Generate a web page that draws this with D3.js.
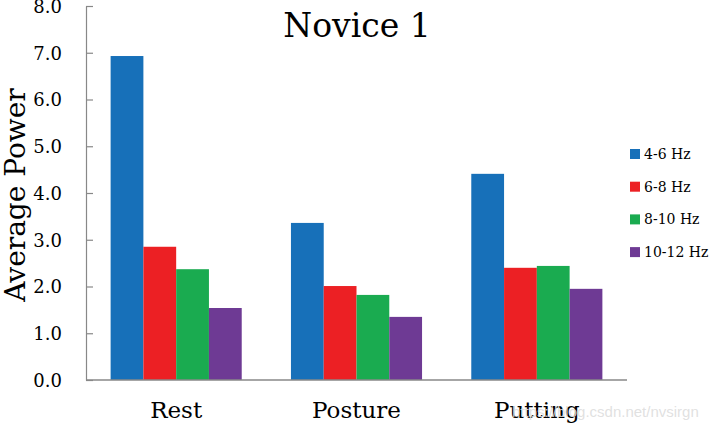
<!DOCTYPE html>
<html><head><meta charset="utf-8">
<script src="https://cdn.jsdelivr.net/npm/d3@7"></script>
<style>body{margin:0;background:#fff}</style>
</head><body>
<svg id="c" width="713" height="426"></svg>
<script>
const categories = ["Rest", "Posture", "Putting"];
const seriesNames = ["4-6 Hz", "6-8 Hz", "8-10 Hz", "10-12 Hz"];
const s4_6 = [6.93, 3.36, 4.41];
const s6_8 = [2.85, 2.01, 2.40];
const s8_10 = [2.37, 1.82, 2.44];
const s10_12 = [1.54, 1.35, 1.95];
const yTicks = [0, 1, 2, 3, 4, 5, 6, 7, 8];
const colors = ["#1770B9", "#EC2024", "#1AAB50", "#6E3A94"];

const series = [s4_6, s6_8, s8_10, s10_12];
const svg = d3.select("#c");
const L = 86, R = 627, T = 6, B = 380;
const serif = "'DejaVu Serif',serif";

const x0 = d3.scaleBand().domain(categories).range([L, R]).paddingInner(0.273).paddingOuter(0.1365);
const x1 = d3.scaleBand().domain(seriesNames).range([0, x0.bandwidth()]);
const y = d3.scaleLinear().domain([0, 8]).range([B, T]);

// bars
categories.forEach((c, ci) => {
  seriesNames.forEach((s, si) => {
    svg.append("rect")
      .attr("x", x0(c) + x1(s))
      .attr("y", y(series[si][ci]))
      .attr("width", x1.bandwidth())
      .attr("height", y(0) - y(series[si][ci]))
      .attr("fill", colors[si]);
  });
});

// y axis
const ya = svg.append("g").attr("transform", `translate(${L},0)`)
  .call(d3.axisLeft(y).tickValues(yTicks).tickFormat(d3.format(".1f")).tickSizeInner(-7).tickSizeOuter(0).tickPadding(24));
ya.select(".domain").attr("stroke", "#888").attr("stroke-width", 1.2);
ya.selectAll(".tick line").attr("stroke", "#888").attr("stroke-width", 1.2);
ya.selectAll(".tick text").attr("font-family", serif).attr("font-size", 18).attr("fill", "#000").attr("dy", "0.36em");

// x axis
const xa = svg.append("g").attr("transform", `translate(0,${B})`)
  .call(d3.axisBottom(x0).tickSize(0).tickPadding(22));
xa.select(".domain").attr("stroke", "#888").attr("stroke-width", 1.5).attr("d", `M${L},0H${R}`);
xa.selectAll(".tick text").attr("font-family", serif).attr("font-size", 23).attr("fill", "#000");

// title
svg.append("text").attr("x", 357).attr("y", 37).attr("text-anchor", "middle")
  .attr("font-family", serif).attr("font-size", 33).text("Novice 1");

// y label
svg.append("text").attr("transform", "translate(25,195) rotate(-90)").attr("text-anchor", "middle")
  .attr("font-family", serif).attr("font-size", 28).text("Average Power");

// legend
const lg = svg.append("g");
seriesNames.forEach((s, i) => {
  const yy = 154 + i * 32.7;
  lg.append("rect").attr("x", 630).attr("y", yy - 5).attr("width", 10).attr("height", 10).attr("fill", colors[i]);
  lg.append("text").attr("x", 644).attr("y", yy + 5).attr("font-family", serif).attr("font-size", 14).text(s);
});

// watermark
svg.append("text").attr("x", 512).attr("y", 417).attr("font-family", "'Liberation Sans',Arial,sans-serif")
  .attr("font-size", 15).attr("fill", "#ddd").attr("fill-opacity", 0.9).text("https://blog.csdn.net/nvsirgn");
</script>
</body></html>
